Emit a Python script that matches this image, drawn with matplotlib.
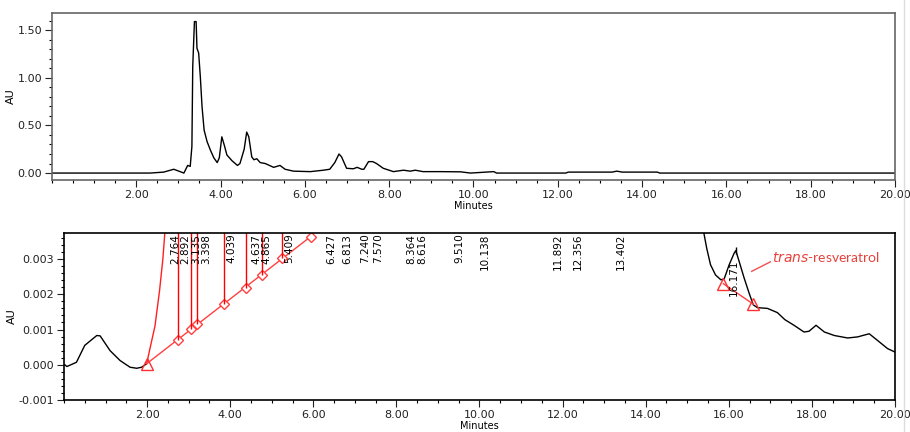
import numpy as np
import matplotlib
matplotlib.use("Agg")
import matplotlib.pyplot as plt
from matplotlib.ticker import MultipleLocator, FormatStrFormatter
from matplotlib.lines import Line2D

# full chromatogram (minutes, AU)
full_t = [0.0, 2.33, 2.65, 2.89, 3.13, 3.22, 3.28, 3.32, 3.34, 3.38, 3.42, 3.44, 3.48,
          3.52, 3.56, 3.61, 3.68, 3.76, 3.84, 3.92, 3.97, 4.03, 4.09, 4.15, 4.27, 4.40,
          4.46, 4.56, 4.62, 4.67, 4.74, 4.79, 4.86, 4.94, 5.06, 5.26, 5.41, 5.53, 5.73,
          6.13, 6.44, 6.59, 6.71, 6.81, 6.87, 6.99, 7.15, 7.24, 7.35, 7.40, 7.51, 7.61,
          7.70, 7.86, 8.10, 8.34, 8.50, 8.62, 8.80, 9.20, 9.69, 9.93, 10.48, 10.55,
          12.19, 12.25, 13.29, 13.40, 13.53, 14.36, 14.42, 20.0]
full_au = [0.0, 0.0, 0.01, 0.04, 0.0, 0.08, 0.07, 0.28, 1.12, 1.59, 1.59, 1.31, 1.26,
           1.01, 0.70, 0.45, 0.33, 0.24, 0.16, 0.11, 0.16, 0.38, 0.29, 0.19, 0.13, 0.08,
           0.10, 0.25, 0.43, 0.38, 0.17, 0.14, 0.15, 0.11, 0.10, 0.06, 0.08, 0.04, 0.02,
           0.015, 0.03, 0.04, 0.11, 0.20, 0.17, 0.05, 0.045, 0.06, 0.04, 0.04, 0.12, 0.12,
           0.10, 0.05, 0.015, 0.03, 0.02, 0.03, 0.015, 0.015, 0.013, 0.0, 0.015, 0.0,
           0.0, 0.01, 0.01, 0.02, 0.01, 0.01, 0.0, 0.0]

# zoomed chromatogram, visible parts
early_t = [0.02, 0.07, 0.30, 0.50, 0.79, 0.87, 1.11, 1.35, 1.59, 1.75, 1.87, 1.99]
early_au = [0.0, -0.00005, 0.00007, 0.00055, 0.00083, 0.00082, 0.0004, 0.00012,
            -0.00007, -0.0001, -0.00007, 0.00003]
rise_t = [1.99, 2.07, 2.19, 2.30, 2.38, 2.43, 2.46]
rise_au = [0.00003, 0.00046, 0.0011, 0.0021, 0.0030, 0.00378, 0.0045]
late_t = [15.35, 15.40, 15.47, 15.56, 15.68, 15.81, 15.89, 16.01, 16.13, 16.17, 16.25,
          16.37, 16.49, 16.59, 16.69, 16.93, 17.17, 17.35, 17.57, 17.81, 17.93, 18.10,
          18.30, 18.54, 18.86, 19.10, 19.38, 19.58, 19.82, 20.0]
late_au = [0.0045, 0.00374, 0.0033, 0.00284, 0.00255, 0.00241, 0.00244, 0.00284, 0.00317,
           0.00324, 0.00293, 0.00246, 0.00203, 0.0017, 0.00162, 0.0016, 0.00148, 0.00128,
           0.00112, 0.00093, 0.00095, 0.00112, 0.00093, 0.00083, 0.00076, 0.00079,
           0.00088, 0.00069, 0.00046, 0.00036]

# integration baseline and drop lines
base_t = [1.99, 5.94]
base_au = [0.00003, 0.00364]
drop_t = [2.75, 3.06, 3.21, 3.86, 4.39, 4.76, 5.25, 5.94]
drop_au = [0.00071, 0.00101, 0.00115, 0.00172, 0.00219, 0.00254, 0.00302, 0.00364]
rt_labels = [2.764, 2.892, 3.135, 3.398, 4.039, 4.637, 4.865, 5.409, 6.427, 6.813,
             7.240, 7.570, 8.364, 8.616, 9.510, 10.138, 11.892, 12.356, 13.402]

# trans-resveratrol peak
res_base_t = [15.87, 16.59]
res_base_au = [0.0023, 0.00172]
res_rt = 16.171
res_apex = 0.00324

xticks = [2, 4, 6, 8, 10, 12, 14, 16, 18, 20]

plt.rcParams['font.family'] = ['DejaVu Sans']
plt.rcParams['font.size'] = 8

fig = plt.figure(figsize=(9.10, 4.32), dpi=100)

def style_axes(ax, spine_color):
    for s in ax.spines.values():
        s.set_color(spine_color)
        s.set_linewidth(1.2)
    ax.set_xticks(xticks)
    ax.xaxis.set_minor_locator(MultipleLocator(0.5))
    ax.xaxis.set_major_formatter(FormatStrFormatter('%.2f'))
    ax.set_xlim(0, 20)
    ax.tick_params(which='major', direction='out', length=5, width=0.8,
                   labelsize=8, colors='#222222', pad=2)
    ax.tick_params(which='minor', direction='out', length=2.5, width=0.8)
    ax.set_xlabel('Minutes', fontsize=7, labelpad=1)
    ax.set_ylabel('AU', fontsize=8, labelpad=1)

def spread(vals, gap):
    # push crowded labels apart, then recentre each crowded group
    pos = list(vals)
    groups = [[0]]
    for i in range(1, len(pos)):
        if pos[i] < pos[i - 1] + gap:
            pos[i] = pos[i - 1] + gap
            groups[-1].append(i)
        else:
            groups.append([i])
    for g in groups:
        shift = np.mean([pos[i] - vals[i] for i in g])
        for i in g:
            pos[i] -= shift
    return pos

# top panel
ax1 = fig.add_axes([0.0571, 0.5833, 0.9264, 0.3866])
ax1.plot(full_t, full_au, color='black', lw=1.0)
style_axes(ax1, '#666666')
ax1.set_ylim(-0.073, 1.68)
ax1.yaxis.set_major_locator(MultipleLocator(0.5))
ax1.yaxis.set_minor_locator(MultipleLocator(0.1))
ax1.yaxis.set_major_formatter(FormatStrFormatter('%.2f'))

# bottom panel
ax2 = fig.add_axes([0.0703, 0.0741, 0.9132, 0.3866])
ax2.plot(early_t, early_au, color='black', lw=1.0)
ax2.plot(late_t, late_au, color='black', lw=1.0)
ax2.plot(rise_t, rise_au, color='#ff2020', lw=1.0)
ax2.plot(base_t, base_au, color='#ff4040', lw=1.0)
ax2.plot(base_t[:1], base_au[:1], marker='^', ms=8, mfc='none', mec='#ff3030', ls='none')
ax2.plot(drop_t, drop_au, marker='D', ms=5.5, mfc='white', mec='#ff4040', ls='none')
ax2.vlines(drop_t[:-1], drop_au[:-1], 0.0045, color='#ff0000', lw=1.0)

for x, rt in zip(spread(rt_labels, 0.25), rt_labels):
    ax2.text(x, 0.00372, '%.3f' % rt, rotation=90, ha='center', va='top', fontsize=7.5)

ax2.plot(res_base_t, res_base_au, color='#ff4040', lw=1.0)
ax2.plot(res_base_t, res_base_au, marker='^', ms=8, mfc='none', mec='#ff3030', ls='none')
ax2.vlines([res_rt], res_apex - 0.0001, res_apex + 0.0001, color='black', lw=1.0)
ax2.text(res_rt - 0.05, 0.00298, '%.3f' % res_rt, rotation=90, ha='center', va='top',
         fontsize=7.5)
ax2.plot([16.55, 17.0], [0.00265, 0.00292], color='#f05050', lw=1.0)
ax2.text(17.05, 0.00307, r'$\mathit{trans}$-resveratrol', color='#e8413c', fontsize=10,
         ha='left', va='center', family=['Lato', 'DejaVu Sans'])

style_axes(ax2, 'black')
ax2.set_ylim(-0.001, 0.00374)
ax2.yaxis.set_major_locator(MultipleLocator(0.001))
ax2.yaxis.set_minor_locator(MultipleLocator(0.0002))
ax2.yaxis.set_major_formatter(FormatStrFormatter('%.3f'))

fig.add_artist(Line2D([0.993, 0.993], [0, 1], color='#dddddd', lw=1.0))

fig.savefig('out.png', dpi=100)
